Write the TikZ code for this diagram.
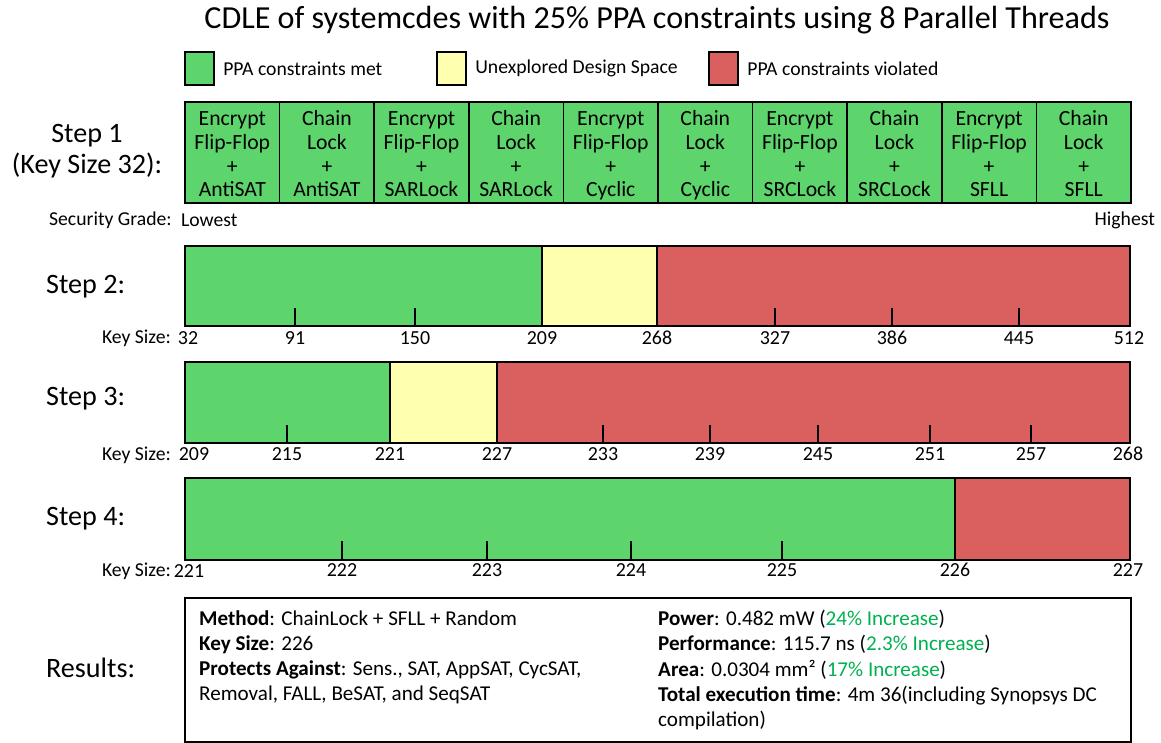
\documentclass[tikz,border=0pt]{standalone}
\usepackage{fontspec}
\setmainfont{Carlito}
\usepackage{xcolor}
\usepackage{tikz}
\usetikzlibrary{positioning}
\definecolor{metgreen}{RGB}{94,212,108}
\definecolor{openyellow}{RGB}{255,255,176}
\definecolor{failred}{RGB}{218,96,96}
\definecolor{gaingreen}{RGB}{0,176,80}

\begin{document}
\begin{tikzpicture}[x=0.03cm,y=-0.03cm,
  title/.style={font=\fontsize{27.4}{31}\selectfont},
  steplbl/.style={font=\fontsize{24}{27}\selectfont},
  smalltxt/.style={font=\fontsize{16.8}{19}\selectfont},
  numtxt/.style={font=\fontsize{17}{19}\selectfont},
  legbox/.style={draw=black,line width=2pt,minimum width=0.87cm,minimum height=0.99cm,inner sep=0pt},
  cell/.style={draw=black,line width=1.5pt,fill=metgreen,minimum width=2.838cm,minimum height=3.03cm,
    inner sep=0pt,align=center,font=\fontsize{18.5}{20.2}\selectfont},
  frame/.style={draw=black,line width=1.7pt},
  tick/.style={line width=1.7pt},
  restxt/.style={font=\fontsize{18}{21.6}\selectfont,align=left,anchor=north west,inner sep=0pt}]
  \useasboundingbox (0,0) rectangle (1161,742);

  \node[title] (title) at (657,20) {CDLE of systemcdes with 25\% PPA constraints using 8 Parallel Threads};

  % legend
  \node[legbox,fill=metgreen] (legmet) at (199.5,68.5) {};
  \node[smalltxt,right=0.12cm of legmet] (legmettxt) {PPA constraints met};
  \node[legbox,fill=openyellow] (legopen) at (451.5,68.5) {};
  \node[smalltxt,right=0.12cm of legopen] (legopentxt) {Unexplored Design Space};
  \node[legbox,fill=failred] (legfail) at (723.5,68.5) {};
  \node[smalltxt,right=0.12cm of legfail] (legfailtxt) {PPA constraints violated};

  % Step 1: ten lock combinations, key size 32
  \node[steplbl,align=center] (step1) at (87,151) {Step 1\\(Key Size 32):};
  \foreach \lock [count=\i] in {AntiSAT,SARLock,Cyclic,SRCLock,SFLL} {
    \node[cell] (eff\i) at ({185+(2*\i-1.5)*94.6},152.5) {};
    \node[cell] (cl\i) at ({185+(2*\i-0.5)*94.6},152.5) {};
    \node[cell,draw=none,fill=none] (efftxt\i) at ({185+(2*\i-1.5)*94.6},156.5)
      {\strut Encrypt\\\strut Flip-Flop\\\strut +\\\strut\lock};
    \node[cell,draw=none,fill=none] (cltxt\i) at ({185+(2*\i-0.5)*94.6},156.5)
      {\strut Chain\\\strut Lock\\\strut +\\\strut\lock};
  }
  \draw[line width=1.7pt] (185,102) rectangle (1131,203);
  \node[smalltxt,anchor=west] (grade) at (45,220) {Security Grade:};
  \node[smalltxt,anchor=west] (lowest) at (177,220) {Lowest};
  \node[smalltxt,anchor=east] (highest) at (1159,220) {Highest};

  % Step 2: 32 .. 512
  \node[steplbl,anchor=west] (step2) at (42,287) {Step 2:};
  \fill[metgreen] (185,246) rectangle (542,326);
  \fill[openyellow] (542,246) rectangle (657,326);
  \fill[failred] (657,246) rectangle (1130,326);
  \draw[frame] (542,246) -- (542,326) (657,246) -- (657,326);
  \draw[frame] (185,246) rectangle (1130,326);
  \foreach \x/\v in {295/91,415/150,542/209,657/268,775/327,892/386,1019/445} {
    \draw[tick] (\x,326) -- (\x,308);
    \node[numtxt] (ks2-\v) at (\x,338) {\v};
  }
  \node[smalltxt,anchor=east] (key2) at (175,338) {Key Size:};
  \node[numtxt] (ks2-32) at (188,338) {32};
  \node[numtxt] (ks2-512) at (1129,338) {512};

  % Step 3: 209 .. 268
  \node[steplbl,anchor=west] (step3) at (42,399) {Step 3:};
  \fill[metgreen] (185,362) rectangle (390,443);
  \fill[openyellow] (390,362) rectangle (497,443);
  \fill[failred] (497,362) rectangle (1130,443);
  \draw[frame] (390,362) -- (390,443) (497,362) -- (497,443);
  \draw[frame] (185,362) rectangle (1130,443);
  \foreach \x/\v in {287/215,390/221,497/227,603/233,710/239,818/245,930/251,1031/257} {
    \draw[tick] (\x,443) -- (\x,425);
    \node[numtxt] (ks3-\v) at (\x,454) {\v};
  }
  \node[smalltxt,anchor=east] (key3) at (175,455) {Key Size:};
  \node[numtxt] (ks3-209) at (194,454) {209};
  \node[numtxt] (ks3-268) at (1128,454) {268};

  % Step 4: 221 .. 227
  \node[steplbl,anchor=west] (step4) at (42,519) {Step 4:};
  \fill[metgreen] (185,478) rectangle (955,560);
  \fill[failred] (955,478) rectangle (1130,560);
  \draw[frame] (955,478) -- (955,560);
  \draw[frame] (185,478) rectangle (1130,560);
  \foreach \x/\v in {342/222,487/223,631/224,782/225,955/226} {
    \draw[tick] (\x,560) -- (\x,541);
    \node[numtxt] (ks4-\v) at (\x,570) {\v};
  }
  \node[smalltxt,anchor=east] (key4) at (175,571) {Key Size:};
  \node[numtxt] (ks4-221) at (189,571) {221};
  \node[numtxt] (ks4-227) at (1128,570) {227};

  % results
  \node[steplbl,anchor=west] (res) at (42,668) {Results:};
  \draw[frame] (185,598) rectangle (1131,742);
  \node[restxt] (resleft) at (199,610) {\textbf{Method}: ChainLock + SFLL + Random\\
    \textbf{Key Size}: 226\\
    \textbf{Protects Against}: Sens., SAT, AppSAT, CycSAT,\\
    Removal, FALL, BeSAT, and SeqSAT};
  \node[restxt] (resright) at (658,610) {\textbf{Power}: 0.482 mW (\textcolor{gaingreen}{24\% Increase})\\
    \textbf{Performance}: 115.7 ns (\textcolor{gaingreen}{2.3\% Increase})\\
    \textbf{Area}: 0.0304 mm² (\textcolor{gaingreen}{17\% Increase})\\
    \textbf{Total execution time}: 4m 36(including Synopsys DC\\
    compilation)};
\end{tikzpicture}
\end{document}
